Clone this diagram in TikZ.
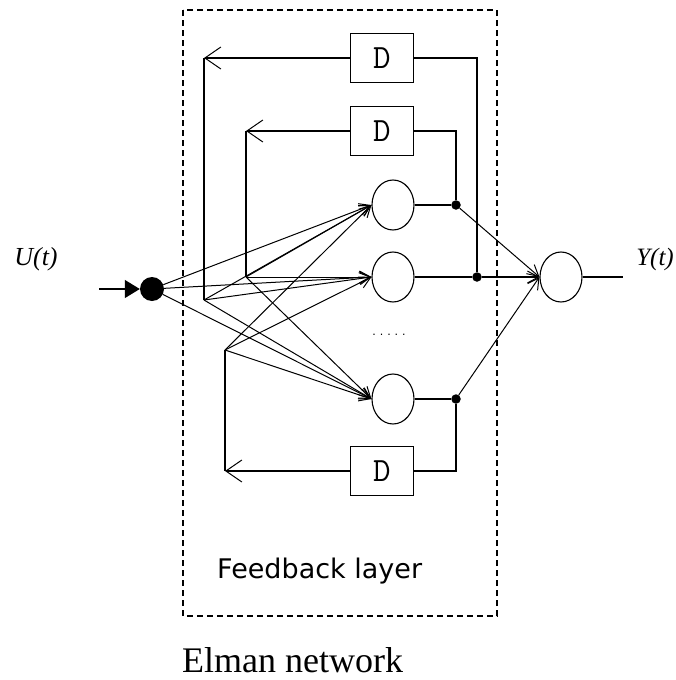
\documentclass[tikz,border=0pt]{standalone}
\usepackage{fontspec}
\setmainfont{Liberation Serif}
\newfontfamily\labelsans{DejaVu Sans}
\usetikzlibrary{arrows.meta,shapes.geometric}
\begin{document}
\begin{tikzpicture}[x=1pt,y=-1pt,
  wire/.style={line width=1.2pt},
  fan/.style={line width=1pt},
  neuron/.style={draw,ellipse,line width=1.1pt,minimum width=42pt,minimum height=50pt,inner sep=0pt},
  dbox/.style={draw,rectangle,line width=1.2pt,minimum width=63pt,minimum height=49pt,inner sep=0pt,font=\ttfamily\fontsize{34}{34}\selectfont},
  jdot/.style={circle,fill=black,inner sep=0pt,minimum size=9.5pt},
  fbarrow/.style={-{Straight Barb[length=16pt,width=22pt,line width=1pt]}},
  inarrow/.style={-{Straight Barb[length=11pt,width=12pt,line width=1pt]}},
]
\useasboundingbox (0,0) rectangle (675,680);
% feedback layer frame
\draw[line width=1.1pt,dash pattern=on 6pt off 4pt] (183,10) rectangle (497,616);
% nodes
\node[neuron] (n1) at (393,205) {};
\node[neuron] (n2) at (393,277) {};
\node[neuron] (n3) at (393,399) {};
\node[neuron] (out) at (561,277) {};
\node[dbox] (d1) at (382,58) {D};
\node[dbox] (d2) at (382,131) {D};
\node[dbox] (d3) at (382,471) {D};
\node[jdot] (p1) at (456,205) {};
\node[jdot] (p2) at (477,277) {};
\node[jdot] (p3) at (456,399) {};
\node[circle,fill=black,minimum size=24pt,inner sep=0pt] (bias) at (152,289) {};
\coordinate (inS) at (99,289);
\coordinate (A) at (204,300);
\coordinate (B) at (246,277);
\coordinate (C) at (225,350);
\coordinate (tl1) at (204,58);
\coordinate (tl2) at (246,131);
\coordinate (bl3) at (225,471);
\coordinate (yend) at (623,277);
% input
\draw[wire,-{Triangle[length=15pt,width=18pt]}] (inS) -- (bias);
% feedback loops
\draw[wire] (p2) |- (d1.east);
\draw[wire,fbarrow] (d1.west) -- (tl1);
\draw[wire] (tl1) -- (A);
\draw[wire] (p1) |- (d2.east);
\draw[wire,fbarrow] (d2.west) -- (tl2);
\draw[wire] (tl2) -- (B);
\draw[wire] (p3) |- (d3.east);
\draw[wire,fbarrow] (d3.west) -- (bl3);
\draw[wire] (bl3) -- (C);
% inputs to hidden neurons
\foreach \s in {bias,A,B,C}{
  \foreach \n in {n1,n2,n3}{
    \draw[fan,inarrow] (\s) -- (\n.west);
  }
}
% outputs
\draw[wire] (n1.east) -- (p1);
\draw[wire] (n2.east) -- (p2);
\draw[wire] (n3.east) -- (p3);
\draw[fan,inarrow] (p1) -- (out.west);
\draw[wire,inarrow] (p2) -- (out.west);
\draw[fan,inarrow] (p3) -- (out.west);
\draw[wire] (out.east) -- (yend);
% labels
\node[font=\labelsans\fontsize{11}{11}\selectfont,inner sep=0pt] (dots) at (389,335) {.\kern4pt.\kern4pt.\kern4pt.\kern4pt.};
\node[font=\itshape\fontsize{26}{26}\selectfont,inner sep=0pt] (u) at (36,259) {U(t)};
\node[font=\itshape\fontsize{25}{25}\selectfont,inner sep=0pt,anchor=east] (y) at (674,259) {Y(t)};
\node[font=\labelsans\fontsize{27}{27}\selectfont,inner sep=0pt,anchor=base west] (fb) at (217,578) {Feedback layer};
\node[font=\fontsize{36}{36}\selectfont,inner sep=0pt,anchor=base west] (title) at (182,672) {Elman network};
\end{tikzpicture}
\end{document}
